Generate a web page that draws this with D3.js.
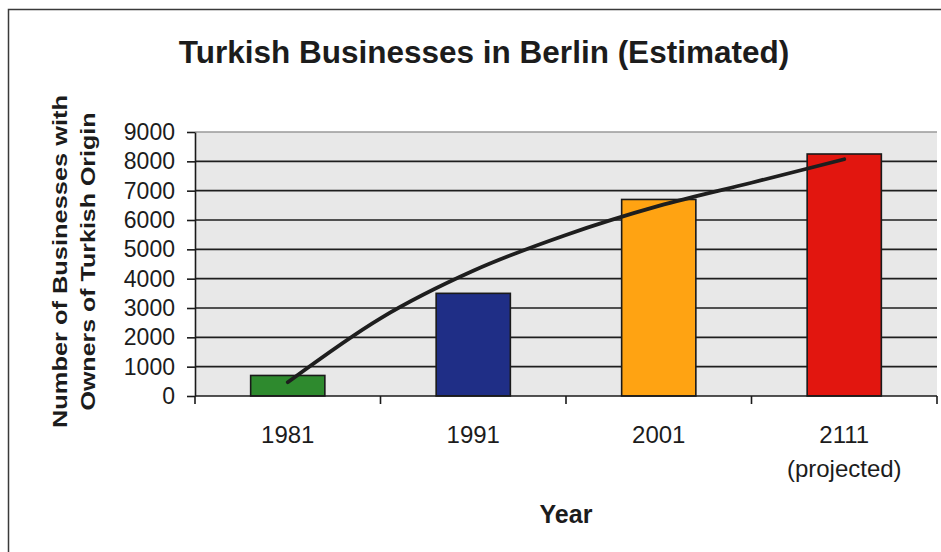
<!DOCTYPE html>
<html><head><meta charset="utf-8">
<script src="https://cdn.jsdelivr.net/npm/d3@7"></script>
<style>
body{margin:0;background:#fff}
svg{display:block}
text{font-family:"Liberation Sans",Arial,Helvetica,sans-serif;fill:#1c1c1c}
</style>
</head><body>
<svg id="chart" width="941" height="552"></svg>
<script>
// ---- data ----
const categories = ["1981", "1991", "2001", "2111"];
const categoryNotes = ["", "", "", "(projected)"];
const businesses = [700, 3500, 6700, 8250];
const barColors = ["#2e8a2e", "#1f2e86", "#ffa312", "#e2160f"];
const trendPositions = [0, 0.5, 1, 1.5, 2, 2.5, 3];
const trendValues = [470, 2650, 4270, 5490, 6480, 7270, 8070];
const yTicks = [0, 1000, 2000, 3000, 4000, 5000, 6000, 7000, 8000, 9000];
const chartTitle = "Turkish Businesses in Berlin (Estimated)";
const yTitleLines = ["Number of Businesses with", "Owners of Turkish Origin"];
const xTitle = "Year";

// ---- layout ----
const svg = d3.select("#chart");
const plot = {left: 195, right: 937, top: 132, bottom: 396};

const y = d3.scaleLinear().domain([0, 9000]).range([plot.bottom, plot.top]);
const x = d3.scaleBand().domain(categories).range([plot.left, plot.right])
  .paddingInner(0.6).paddingOuter(0.3);
const bw = x.bandwidth();
const step = x.step();
const cx = c => x(c) + bw / 2;
const xt = d3.scaleLinear().domain([0, categories.length - 1])
  .range([cx(categories[0]), cx(categories[categories.length - 1])]);

// outer frame
svg.append("rect").attr("x", 8.5).attr("y", 9.5).attr("width", 960).attr("height", 600)
  .attr("fill", "none").attr("stroke", "#3a3a3a").attr("stroke-width", 1.5);

// title
svg.append("text").attr("x", 484).attr("y", 63).attr("text-anchor", "middle")
  .style("font-size", "31.5px").style("font-weight", "bold").text(chartTitle);

// plot background
svg.append("rect").attr("x", plot.left).attr("y", plot.top)
  .attr("width", plot.right - plot.left).attr("height", plot.bottom - plot.top)
  .attr("fill", "#e8e8e8");

// top border (9000) in grey
svg.append("line").attr("x1", plot.left).attr("x2", plot.right)
  .attr("y1", y(9000)).attr("y2", y(9000)).attr("stroke", "#9a9a9a").attr("stroke-width", 1.5);

// gridlines
svg.append("g").selectAll("line").data(yTicks.filter(v => v > 0 && v < 9000)).join("line")
  .attr("x1", plot.left).attr("x2", plot.right)
  .attr("y1", d => y(d)).attr("y2", d => y(d))
  .attr("stroke", "#1e1e1e").attr("stroke-width", 1.6);

// bars
svg.append("g").selectAll("rect").data(categories).join("rect")
  .attr("x", d => x(d)).attr("width", bw)
  .attr("y", (d, i) => y(businesses[i]))
  .attr("height", (d, i) => y(0) - y(businesses[i]))
  .attr("fill", (d, i) => barColors[i])
  .attr("stroke", "#1a1a1a").attr("stroke-width", 1.6);

// trend line
const line = d3.line().x(d => xt(d[0])).y(d => y(d[1])).curve(d3.curveMonotoneX);
svg.append("path").datum(trendPositions.map((p, i) => [p, trendValues[i]]))
  .attr("d", line).attr("fill", "none").attr("stroke", "#1e1e1e")
  .attr("stroke-width", 3.8).attr("stroke-linecap", "round").attr("stroke-linejoin", "round");

// y axis
const yAxis = svg.append("g").attr("transform", `translate(${plot.left},0)`)
  .call(d3.axisLeft(y).tickValues(yTicks).tickFormat(d3.format("d"))
    .tickSize(8).tickSizeOuter(0).tickPadding(12));
yAxis.select(".domain").attr("stroke", "#1a1a1a").attr("stroke-width", 1.6);
yAxis.selectAll(".tick line").attr("stroke", "#1a1a1a").attr("stroke-width", 1.6);
yAxis.selectAll(".tick text").style("font-size", "23px").attr("fill", "#1c1c1c")
  .style("font-family", '"Liberation Sans",Arial,sans-serif');

// x axis line + boundary ticks
svg.append("line").attr("x1", plot.left).attr("x2", plot.right)
  .attr("y1", y(0)).attr("y2", y(0)).attr("stroke", "#1a1a1a").attr("stroke-width", 1.6);
const bounds = [x(categories[0]) - step * x.paddingOuter()].concat(categories.map(c => x(c) + bw + (step - bw) / 2));
svg.append("g").selectAll("line").data(bounds).join("line")
  .attr("x1", d => d).attr("x2", d => d).attr("y1", y(0)).attr("y2", y(0) + 8)
  .attr("stroke", "#1a1a1a").attr("stroke-width", 1.6);

// x tick labels
const xl = svg.append("g").selectAll("text").data(categories).join("text")
  .attr("text-anchor", "middle").style("font-size", "24px");
xl.append("tspan").attr("x", d => cx(d)).attr("y", 443).text(d => d);
xl.append("tspan").attr("x", d => cx(d)).attr("y", 477).text((d, i) => categoryNotes[i]);

// x title
svg.append("text").attr("x", (plot.left + plot.right) / 2).attr("y", 523)
  .attr("text-anchor", "middle").style("font-size", "25px").style("font-weight", "bold").text(xTitle);

// y title
const yLens = [333, 298];
const yBase = [67, 95];
yTitleLines.forEach((t, i) => {
  svg.append("text").attr("transform", `translate(${yBase[i]},261.5) rotate(-90)`)
    .attr("text-anchor", "middle").style("font-size", "21px").style("font-weight", "bold")
    .attr("textLength", yLens[i]).attr("lengthAdjust", "spacingAndGlyphs").text(t);
});
</script>
</body></html>
